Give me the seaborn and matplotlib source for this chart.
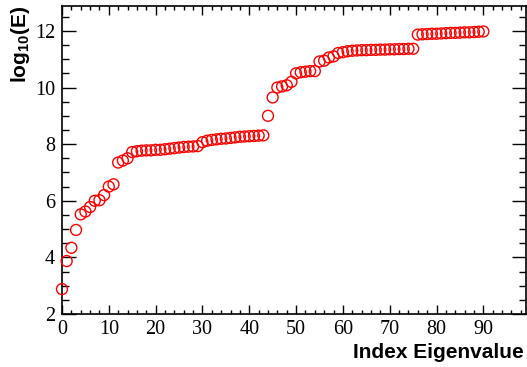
import numpy as np
import pandas as pd
import matplotlib
matplotlib.use("Agg")
import matplotlib.pyplot as plt
import seaborn as sns
from matplotlib.ticker import MultipleLocator

index_eigenvalue = list(range(91))
log10_E = [
    2.88, 3.87, 4.34, 4.97, 5.52, 5.62, 5.78, 6.00, 6.02, 6.20,
    6.50, 6.58, 7.35, 7.42, 7.50, 7.72, 7.75, 7.77, 7.78, 7.78,
    7.80, 7.80, 7.82, 7.84, 7.86, 7.88, 7.90, 7.91, 7.92, 7.93,
    8.07, 8.12, 8.15, 8.17, 8.19, 8.20, 8.22, 8.24, 8.26, 8.27,
    8.28, 8.29, 8.30, 8.31, 9.00, 9.65, 10.00, 10.04, 10.08, 10.20,
    10.50, 10.54, 10.56, 10.58, 10.58, 10.92, 10.95, 11.06, 11.10, 11.22,
    11.25, 11.28, 11.30, 11.31, 11.32, 11.32, 11.33, 11.33, 11.34, 11.34,
    11.35, 11.35, 11.36, 11.36, 11.37, 11.37, 11.87, 11.88, 11.89, 11.90,
    11.90, 11.91, 11.92, 11.93, 11.93, 11.94, 11.95, 11.95, 11.96, 11.97,
    11.98,
]
x_ticks = [0, 10, 20, 30, 40, 50, 60, 70, 80, 90]
y_ticks = [2, 4, 6, 8, 10, 12]

df = pd.DataFrame({"idx": index_eigenvalue, "logE": log10_E})

sns.set_theme(style="ticks")
plt.rcParams["font.family"] = ["Liberation Serif", "DejaVu Serif"]
plt.rcParams["mathtext.fontset"] = "custom"
plt.rcParams["mathtext.rm"] = "Liberation Sans:bold"
plt.rcParams["mathtext.it"] = "Liberation Sans:bold"
plt.rcParams["mathtext.bf"] = "Liberation Sans:bold"
for key in ["text.color", "axes.labelcolor", "xtick.color", "ytick.color", "axes.edgecolor"]:
    plt.rcParams[key] = "black"

fig = plt.figure(figsize=(5.27, 3.67), dpi=100)
ax = fig.add_axes([62 / 527, 1 - 314 / 367, (525.5 - 62) / 527, (314 - 6) / 367])

sns.scatterplot(data=df, x="idx", y="logE", ax=ax, marker="o", s=62,
                facecolors="none", edgecolors="#ff0000", linewidth=1.0,
                legend=False, zorder=3, clip_on=False)

ax.set_xlim(0, 99)
ax.set_ylim(2, 12.88)
ax.set_xticks(x_ticks)
ax.set_yticks(y_ticks)
ax.xaxis.set_minor_locator(MultipleLocator(2))
ax.yaxis.set_minor_locator(MultipleLocator(0.5))
ax.set_xlabel("")
ax.set_ylabel("")

for s in ax.spines.values():
    s.set_linewidth(1.2)
    s.set_color("black")
    s.set_visible(True)

ax.tick_params(axis="x", which="major", direction="in", length=6.5, width=1.0,
               top=True, bottom=True, labelsize=14.5, pad=4, colors="black")
ax.tick_params(axis="x", which="minor", direction="in", length=3.2, width=1.0,
               top=True, bottom=True, colors="black")
ax.tick_params(axis="y", which="major", direction="in", length=10, width=1.0,
               left=True, right=True, labelsize=14.5, pad=5, colors="black")
ax.tick_params(axis="y", which="minor", direction="in", length=5, width=1.0,
               left=True, right=True, colors="black")

fig.text(524 / 527, 1 - 352 / 367, "Index Eigenvalue", ha="right", va="center",
         fontsize=15, fontweight="bold", family="Liberation Sans", color="black")
fig.text(20 / 527, 1 - 6 / 367, r"log$_{10}$(E)", ha="center", va="top",
         rotation=90, fontsize=15, fontweight="bold", family="Liberation Sans",
         color="black")

fig.savefig("out.png", dpi=100)
